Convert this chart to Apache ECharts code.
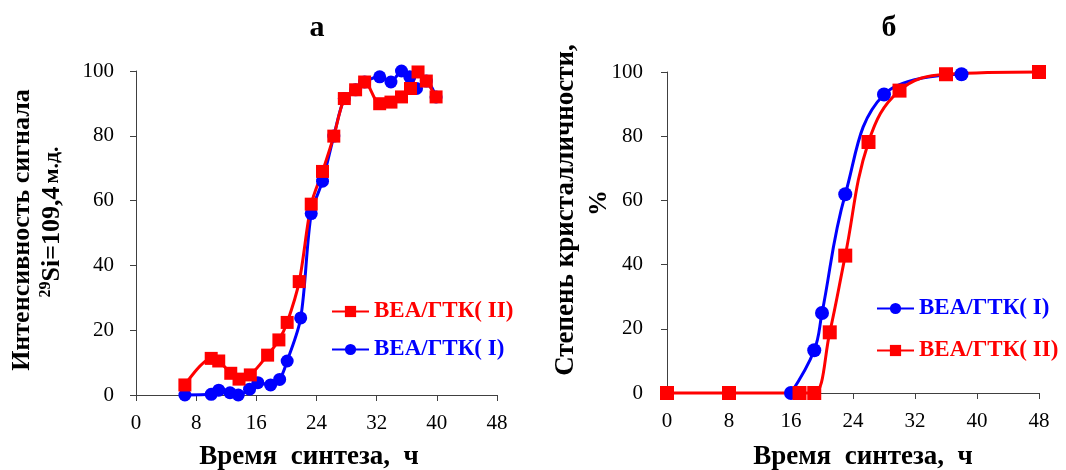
<!DOCTYPE html>
<html>
<head>
<meta charset="utf-8">
<script src="https://cdn.jsdelivr.net/npm/echarts@6/dist/echarts.min.js"></script>
<style>
html,body{margin:0;padding:0;background:#fff;}
#c{width:1066px;height:470px;}
</style>
</head>
<body>
<div id="c"></div>
<script>
// ---- data ----
const xTicks = [0, 8, 16, 24, 32, 40, 48];
const yTicks = [0, 20, 40, 60, 80, 100];

// Panel a
const aRedX = [6.5, 10, 11, 12.6, 13.7, 15.2, 17.5, 19, 20.1, 21.7, 23.3, 24.8, 26.3, 27.7, 29.2, 30.4, 32.4, 33.9, 35.3, 36.5, 37.5, 38.6, 39.9];
const aRedY = [3.1, 11.3, 10.5, 6.7, 4.9, 6.2, 12.3, 17, 22.4, 35, 58.9, 69, 79.9, 91.5, 94.2, 96.6, 89.9, 90.4, 92, 94.6, 99.7, 96.9, 92];
const aBlueX = [6.5, 10, 11, 12.5, 13.6, 15.1, 16.2, 17.9, 19.1, 20.1, 21.9, 23.3, 24.8, 26.3, 27.7, 29.2, 30.4, 32.4, 33.9, 35.3, 36.4, 37.3, 38.6, 39.9];
const aBlueY = [0, 0.2, 1.5, 0.7, 0, 1.8, 3.8, 3.1, 4.8, 10.5, 23.8, 56, 66, 79.9, 91.5, 94.2, 96.6, 98.2, 96.6, 100, 98.2, 94.6, 96.9, 92];

// Panel b
const bBlueX = [16, 19, 20, 23, 28, 38];
const bBlueY = [0, 13.3, 24.9, 61.9, 93, 99.3];
const bRedX = [0, 8, 17.1, 19, 21, 23, 26, 30, 36, 48];
const bRedY = [0, 0, 0, 0, 18.9, 42.8, 78.2, 94.2, 99.3, 100];

const nameII = 'BEA/ГТК( II)';
const nameI = 'BEA/ГТК( I)';
const RED = '#ff0000', BLUE = '#0000ff';

function pairs(xs, ys) { return xs.map((x, i) => [x, ys[i]]); }

const FONT = 'Liberation Serif';
const axisCol = '#404040';

function xAxis(grid) {
  return {
    type: 'value', gridIndex: grid, min: xTicks[0], max: xTicks[xTicks.length - 1], interval: 8,
    axisLine: { show: true, lineStyle: { color: axisCol, width: 1 } },
    axisTick: { show: true, length: 6, lineStyle: { color: axisCol } },
    axisLabel: { color: '#000', fontFamily: FONT, fontSize: 21, margin: 18 },
    splitLine: { show: false }
  };
}
function yAxis(grid, margin) {
  return {
    type: 'value', gridIndex: grid, min: yTicks[0], max: yTicks[yTicks.length - 1], interval: 20,
    axisLine: { show: true, lineStyle: { color: axisCol, width: 1 } },
    axisTick: { show: true, length: 6, lineStyle: { color: axisCol } },
    axisLabel: { color: '#000', fontFamily: FONT, fontSize: 21, margin: margin },
    splitLine: { show: false }
  };
}
function series(name, xi, data, color, symbol, size, smooth) {
  return {
    name: name, type: 'line', xAxisIndex: xi, yAxisIndex: xi, data: data,
    symbol: symbol, symbolSize: size, smooth: smooth, clip: false,
    lineStyle: { color: color, width: 3 },
    itemStyle: { color: color },
    emphasis: { disabled: true }, animation: false
  };
}

const chart = echarts.init(document.getElementById('c'));
const titleFont = { fontFamily: FONT, fontWeight: 'bold', fill: '#000' };

chart.setOption({
  backgroundColor: '#fff',
  animation: false,
  grid: [
    { left: 136, top: 71, width: 361, height: 324 },
    { left: 667, top: 72, width: 372, height: 321 }
  ],
  xAxis: [xAxis(0), xAxis(1)],
  yAxis: [yAxis(0, 22), yAxis(1, 24)],
  legend: [
    {
      orient: 'vertical', left: 331, top: 300, padding: 0, itemWidth: 37, itemHeight: 14, itemGap: 15,
      selectedMode: false,
      textStyle: { fontFamily: FONT, fontWeight: 'bold', fontSize: 23 },
      data: [
        { name: nameII, textStyle: { color: RED } },
        { name: nameI, textStyle: { color: BLUE } }
      ]
    },
    {
      orient: 'vertical', left: 876, top: 297, padding: 0, itemWidth: 37, itemHeight: 14, itemGap: 19,
      selectedMode: false,
      textStyle: { fontFamily: FONT, fontWeight: 'bold', fontSize: 23 },
      data: [
        { name: nameI, textStyle: { color: BLUE } },
        { name: nameII, textStyle: { color: RED } }
      ]
    }
  ],
  series: [
    series(nameI, 0, pairs(aBlueX, aBlueY), BLUE, 'circle', 13, 0.3),
    series(nameII, 0, pairs(aRedX, aRedY), RED, 'rect', 13, 0.3),
    series(nameI, 1, pairs(bBlueX, bBlueY), BLUE, 'circle', 14, 0.4),
    series(nameII, 1, pairs(bRedX, bRedY), RED, 'rect', 14, 0.4)
  ],
  graphic: [
    { type: 'text', x: 317, y: 28, style: Object.assign({ text: 'а', fontSize: 30, align: 'center', verticalAlign: 'middle' }, titleFont) },
    { type: 'text', x: 889, y: 28, style: Object.assign({ text: 'б', fontSize: 30, align: 'center', verticalAlign: 'middle' }, titleFont) },
    { type: 'text', x: 309, y: 457, style: Object.assign({ text: 'Время  синтеза,  ч', fontSize: 27, align: 'center', verticalAlign: 'middle' }, titleFont) },
    { type: 'text', x: 863, y: 457, style: Object.assign({ text: 'Время  синтеза,  ч', fontSize: 27, align: 'center', verticalAlign: 'middle' }, titleFont) },
    { type: 'text', x: 22, y: 230, rotation: Math.PI / 2, style: Object.assign({ text: 'Интенсивность сигнала', fontSize: 26, align: 'center', verticalAlign: 'middle' }, titleFont) },
    { type: 'text', x: 52, y: 222, rotation: Math.PI / 2, style: Object.assign({
        text: '{s|29}{b|Si=109,4} {m|м.д.}', align: 'center', verticalAlign: 'middle',
        rich: {
          s: { fontFamily: FONT, fontWeight: 'bold', fontSize: 16, verticalAlign: 'top', lineHeight: 28, fill: '#000' },
          b: { fontFamily: FONT, fontWeight: 'bold', fontSize: 26, lineHeight: 28, fill: '#000' },
          m: { fontFamily: FONT, fontWeight: 'bold', fontSize: 22, lineHeight: 28, fill: '#000' }
        }
      }, titleFont) },
    { type: 'text', x: 566, y: 210, rotation: Math.PI / 2, style: Object.assign({ text: 'Степень кристалличности,', fontSize: 27, align: 'center', verticalAlign: 'middle' }, titleFont) },
    { type: 'text', x: 599, y: 203, rotation: Math.PI / 2, style: Object.assign({ text: '%', fontSize: 26, align: 'center', verticalAlign: 'middle' }, titleFont) }
  ]
});
</script>
</body>
</html>
